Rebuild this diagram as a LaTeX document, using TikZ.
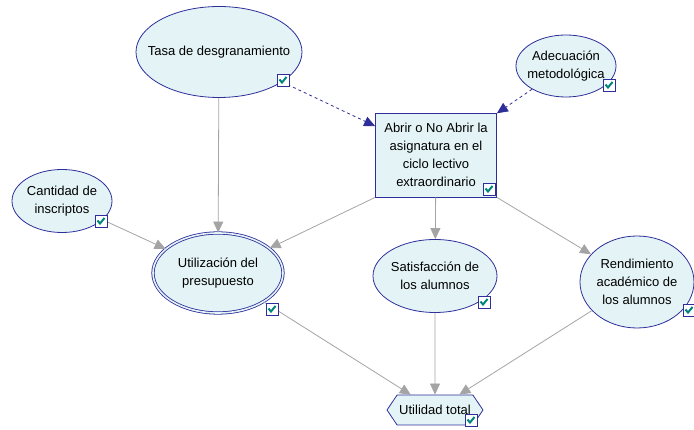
\documentclass[tikz,border=0pt]{standalone}
\usepackage{fontspec}
\setmainfont{Liberation Sans}
\usetikzlibrary{shapes.geometric,shapes.symbols,arrows.meta}
\definecolor{nodefill}{HTML}{E4F4F6}
\definecolor{nodeline}{HTML}{2E2E9A}
\definecolor{linkgray}{HTML}{A4A4A4}
\definecolor{checkteal}{HTML}{00847E}
\begin{document}
\begin{tikzpicture}[x=1pt,y=-1pt,
    font=\fontsize{13}{18}\selectfont,
    chance/.style={ellipse,draw=nodeline,fill=nodefill,line width=0.8pt,inner sep=0pt,
        label={[align=center]center:#1}},
    decision/.style={rectangle,draw=nodeline,fill=nodefill,line width=0.8pt,inner sep=0pt,align=center,
        minimum width=121pt,minimum height=84pt},
    utility/.style={signal,signal to=west and east,signal pointer angle=112,draw=nodeline,fill=nodefill,
        line width=0.8pt,inner sep=0pt,minimum width=96pt,minimum height=30pt},
    info/.style={draw=nodeline,dashed,line width=0.8pt,-{Triangle[length=11pt,width=10pt]}},
    link/.style={draw=linkgray,line width=0.8pt,-{Triangle[length=11pt,width=10pt]}},
    chk/.pic={
        \draw[nodeline,fill=white,line width=0.8pt] (-6,-6) rectangle (6,6);
        \draw[checkteal,line width=2pt] (-3.5,-0.5) -- (-1,2.5) -- (3.5,-3);
    }]
    \useasboundingbox (0,0) rectangle (694,430);

    % Top nodes
    \node[chance={Tasa de desgranamiento},minimum width=166pt,minimum height=91pt] (tasa) at (219,52) {};
    \node[chance={Adecuación\\metodológica},minimum width=100pt,minimum height=62pt] (adec) at (566,66) {};

    % Decision node
    \node[decision] (abrir) at (436,155) {Abrir o No Abrir la\\asignatura en el\\ciclo lectivo\\extraordinario};
    \draw[info] (tasa) -- (abrir);
    \draw[info] (adec) -- (abrir);

    % Middle nodes
    \node[chance={Cantidad de\\inscriptos},minimum width=100pt,minimum height=63pt] (cant) at (62,201) {};
    \node[chance={Utilización del\\presupuesto},double=nodefill,double distance=1.6pt,minimum width=130pt,minimum height=80pt] (presu) at (218,273) {};
    \node[chance={Satisfacción de\\los alumnos},minimum width=124pt,minimum height=73pt] (satis) at (435,276) {};
    \node[chance={Rendimiento\\académico de\\los alumnos},minimum width=114pt,minimum height=92pt] (rend) at (637,282) {};
    \draw[link] (tasa) -- (presu);
    \draw[link] (cant) -- (presu);
    \draw[link] (abrir.south west) -- (presu);
    \draw[link] (abrir) -- (satis);
    \draw[link] (abrir.south east) -- (rend);

    % Utility node
    \node[utility] (util) at (435,410) {Utilidad total};
    \draw[link] (presu) -- (util);
    \draw[link] (satis) -- (util);
    \draw[link] (rend) -- (util);

    % Check boxes
    \pic at (283,80) {chk};
    \pic at (609,85) {chk};
    \pic at (489,189) {chk};
    \pic at (101,221) {chk};
    \pic at (272,309) {chk};
    \pic at (484,302) {chk};
    \pic at (689,310) {chk};
    \pic at (471,420) {chk};
\end{tikzpicture}
\end{document}
